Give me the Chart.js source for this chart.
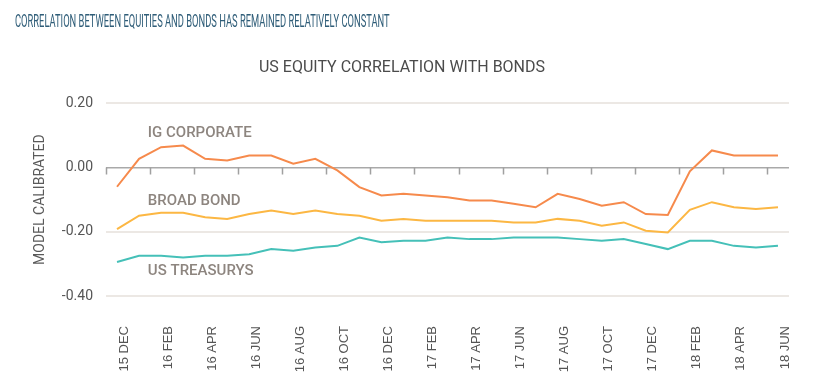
<!DOCTYPE html>
<html>
<head>
    <title>US Equity Correlation With Bonds</title>
    <script src="https://cdn.jsdelivr.net/npm/chart.js"></script>
    <style>
        body { margin: 0; background: #fff; }
        #wrap { position: relative; width: 829px; height: 384px; }
        #headline {
            position: absolute; left: 15px; top: 12px; margin: 0;
            font: 18px Roboto, sans-serif; line-height: 18px; color: #2f5d78;
            white-space: nowrap; transform: scaleX(0.52); transform-origin: left top;
        }
    </style>
</head>
<body>
<div id="wrap">
    <div id="headline">CORRELATION BETWEEN EQUITIES AND BONDS HAS REMAINED RELATIVELY CONSTANT</div>
    <canvas id="corrChart" width="829" height="384"></canvas>
</div>

<script>
// monthly points, Dec 2015 .. Jun 2018
const months = [
    '15 DEC', '16 JAN', '16 FEB', '16 MAR', '16 APR', '16 MAY', '16 JUN', '16 JUL',
    '16 AUG', '16 SEP', '16 OCT', '16 NOV', '16 DEC', '17 JAN', '17 FEB', '17 MAR',
    '17 APR', '17 MAY', '17 JUN', '17 JUL', '17 AUG', '17 SEP', '17 OCT', '17 NOV',
    '17 DEC', '18 JAN', '18 FEB', '18 MAR', '18 APR', '18 MAY', '18 JUN'
];

const igCorporate = [
    -0.060, 0.027, 0.063, 0.068, 0.027, 0.022, 0.037, 0.037, 0.012, 0.027,
    -0.009, -0.061, -0.087, -0.082, -0.087, -0.093, -0.103, -0.103, -0.113, -0.124,
    -0.082, -0.098, -0.119, -0.108, -0.145, -0.148, -0.012, 0.053, 0.037, 0.037, 0.037
];

const broadBond = [
    -0.192, -0.150, -0.141, -0.141, -0.155, -0.160, -0.145, -0.134, -0.145, -0.134,
    -0.145, -0.150, -0.166, -0.160, -0.166, -0.166, -0.166, -0.166, -0.171, -0.171,
    -0.160, -0.166, -0.181, -0.171, -0.197, -0.202, -0.132, -0.108, -0.124, -0.129, -0.124
];

const usTreasurys = [
    -0.294, -0.275, -0.275, -0.280, -0.275, -0.275, -0.270, -0.254, -0.259, -0.249,
    -0.244, -0.218, -0.233, -0.228, -0.228, -0.218, -0.223, -0.223, -0.218, -0.218,
    -0.218, -0.223, -0.228, -0.223, -0.238, -0.254, -0.228, -0.228, -0.244, -0.249, -0.244
];

const seriesNames = ['IG CORPORATE', 'BROAD BOND', 'US TREASURYS'];
const seriesColors = ['#f68a4c', '#fcb743', '#45c0b8'];

// where the in-chart series names sit (category index, y value)
const nameAnchors = [
    { index: 1.4, value: 0.108 },
    { index: 1.4, value: -0.104 },
    { index: 1.4, value: -0.322 }
];

const isZero = v => Math.abs(v) < 1e-9;

// tick marks hanging off the zero line, every other month boundary
const zeroTicks = {
    id: 'zeroTicks',
    beforeDatasetsDraw(chart) {
        const x = chart.scales.x, y = chart.scales.y;
        const half = (x.getPixelForValue(1) - x.getPixelForValue(0)) / 2;
        const y0 = y.getPixelForValue(0);
        const ctx = chart.ctx;
        ctx.save();
        ctx.strokeStyle = '#a0a0a0';
        ctx.lineWidth = 1.5;
        ctx.beginPath();
        for (let i = 0; i < months.length; i += 2) {
            const px = Math.round(x.getPixelForValue(i) - half) + 0.5;
            ctx.moveTo(px, y0);
            ctx.lineTo(px, y0 + 7);
        }
        ctx.stroke();
        ctx.restore();
    }
};

const seriesLabels = {
    id: 'seriesLabels',
    afterDatasetsDraw(chart) {
        const x = chart.scales.x, y = chart.scales.y;
        const ctx = chart.ctx;
        ctx.save();
        ctx.font = '500 15px Roboto, sans-serif';
        ctx.fillStyle = '#8d857f';
        ctx.textBaseline = 'middle';
        nameAnchors.forEach((a, i) => {
            ctx.fillText(seriesNames[i], x.getPixelForValue(a.index), y.getPixelForValue(a.value));
        });
        ctx.restore();
    }
};

const ctx = document.getElementById('corrChart').getContext('2d');
new Chart(ctx, {
    type: 'line',
    data: {
        labels: months,
        datasets: [igCorporate, broadBond, usTreasurys].map((d, i) => ({
            label: seriesNames[i],
            data: d,
            borderColor: seriesColors[i],
            borderWidth: 2,
            pointRadius: 0,
            fill: false,
            tension: 0
        }))
    },
    options: {
        responsive: false,
        animation: false,
        layout: { padding: { left: 15, right: 40, top: 0, bottom: 0 } },
        plugins: {
            legend: { display: false },
            tooltip: { enabled: false },
            title: {
                display: true,
                text: 'US EQUITY CORRELATION WITH BONDS',
                color: '#4b4b4b',
                font: { family: 'Roboto', size: 16, weight: '400' },
                padding: { top: 58, bottom: 26 }
            }
        },
        scales: {
            x: {
                offset: true,
                grid: { display: false },
                border: { display: false },
                afterFit: s => { s.height = 88; },
                ticks: {
                    autoSkip: false,
                    maxRotation: 90,
                    minRotation: 90,
                    padding: 22,
                    labelOffset: 7,
                    color: '#555',
                    font: { family: 'Liberation Sans', size: 13 },
                    callback: function (v, i) { return i % 2 === 0 ? this.getLabelForValue(v) : ''; }
                }
            },
            y: {
                min: -0.4,
                max: 0.2,
                afterFit: s => { s.width = 91; },
                border: { display: false },
                grid: {
                    drawTicks: false,
                    lineWidth: c => isZero(c.tick.value) ? 1.5 : 2,
                    color: c => isZero(c.tick.value) ? '#a9a9a9' : '#ece8e4'
                },
                ticks: {
                    stepSize: 0.2,
                    padding: 13,
                    color: '#555',
                    font: { family: 'Roboto', size: 14 },
                    callback: v => isZero(v) ? '0.00' : v.toFixed(2)
                },
                title: {
                    display: true,
                    text: 'MODEL CALIBRATED',
                    color: '#5a5a5a',
                    font: { family: 'Roboto', size: 14 },
                    padding: { top: 17, bottom: 0 }
                }
            }
        }
    },
    plugins: [zeroTicks, seriesLabels]
});
</script>
</body>
</html>
